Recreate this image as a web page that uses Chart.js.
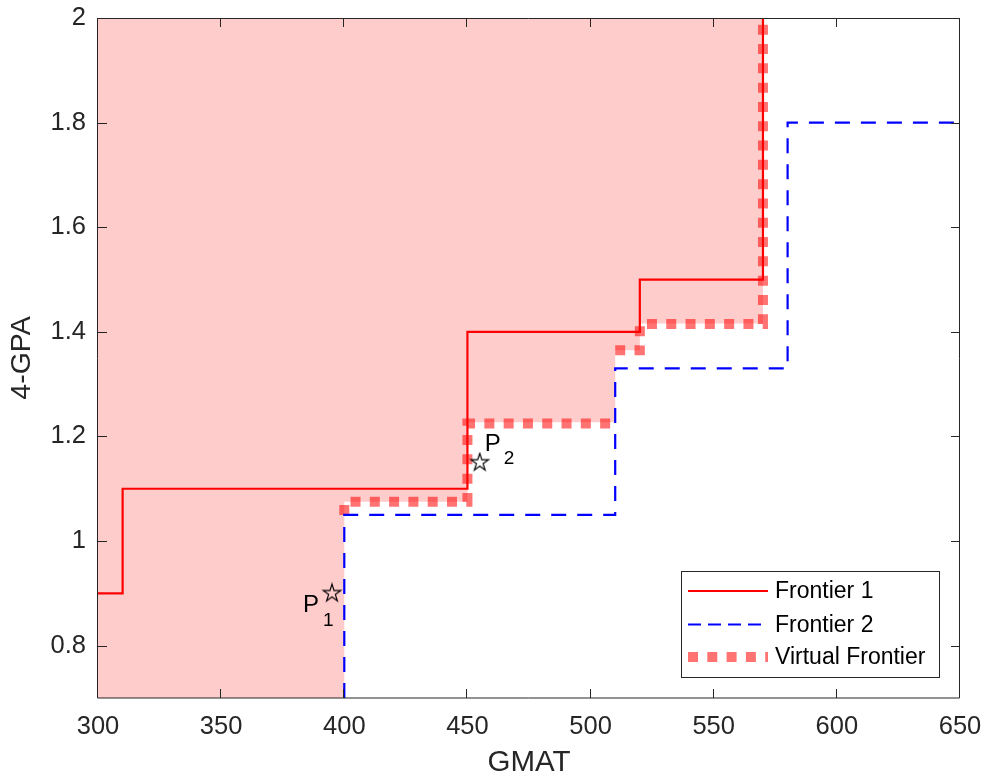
<!DOCTYPE html>
<html>
<head>
<meta charset="utf-8">
<title>GMAT / GPA frontiers</title>
<script src="https://cdn.jsdelivr.net/npm/chart.js@4.4.1/dist/chart.umd.min.js"></script>
<style>
    html, body { margin: 0; padding: 0; background: #fff; }
</style>
</head>
<body>
<canvas id="frontierChart" width="985" height="778"></canvas>
<script>
// Axis ticks
const xTicks = [300, 350, 400, 450, 500, 550, 600, 650];
const yTicks = [0.8, 1, 1.2, 1.4, 1.6, 1.8, 2];

// Series
const seriesLabels = ['Frontier 1', 'Frontier 2', 'Virtual Frontier'];
const frontier1X = [300, 310, 310, 450, 450, 520, 520, 570, 570];
const frontier1Y = [0.9, 0.9, 1.1, 1.1, 1.4, 1.4, 1.5, 1.5, 2];
const frontier2X = [400, 400, 510, 510, 580, 580, 650];
const frontier2Y = [0.7, 1.05, 1.05, 1.33, 1.33, 1.8, 1.8];
const virtualX = [400, 400, 450, 450, 510, 510, 510, 520, 520, 570, 570];
const virtualY = [1.05, 1.075, 1.075, 1.225, 1.225, null, 1.365, 1.365, 1.415, 1.415, 2];

// Shaded region (above the virtual frontier)
const regionX = [300, 400, 400, 450, 450, 510, 510, 520, 520, 570, 570, 300];
const regionY = [0.7, 0.7, 1.075, 1.075, 1.227, 1.227, 1.365, 1.365, 1.416, 1.416, 2, 2];

// Marked points
const pointNames = ['P', 'P'];
const pointSubs = ['1', '2'];
const pointX = [395, 455];
const pointY = [0.9, 1.15];

const FONT = "'Liberation Sans', Arial, Helvetica, sans-serif";
const AXIS_COLOR = '#262626';

const toXY = (xs, ys) => xs.map((x, i) => ({ x: x, y: ys[i] }));

// pentagram marker, outline only
function makePentagram(size) {
    const c = document.createElement('canvas');
    c.width = size;
    c.height = size;
    const g = c.getContext('2d');
    const cx = size / 2, cy = size / 2;
    const R = size / 2 - 1.8, r = R * 0.382;
    g.beginPath();
    for (let i = 0; i < 10; i++) {
        const a = -Math.PI / 2 + i * Math.PI / 5;
        const rad = i % 2 ? r : R;
        g.lineTo(cx + rad * Math.cos(a), cy + rad * Math.sin(a));
    }
    g.closePath();
    g.lineWidth = 1.2;
    g.lineJoin = 'miter';
    g.strokeStyle = '#000';
    g.stroke();
    return c;
}

// box, inward tick marks, point labels and legend
const framePlugin = {
    id: 'framePlugin',
    afterDraw(chart) {
        const { ctx, chartArea: a, scales: { x, y } } = chart;
        const tick = 9;
        ctx.save();

        ctx.strokeStyle = AXIS_COLOR;
        ctx.lineWidth = 1;
        ctx.beginPath();
        ctx.rect(a.left - 0.5, a.top + 0.5, a.right - a.left, a.bottom - a.top - 0.5);
        xTicks.forEach(v => {
            const px = Math.round(x.getPixelForValue(v)) - 0.5;
            ctx.moveTo(px, a.bottom);
            ctx.lineTo(px, a.bottom - tick);
            ctx.moveTo(px, a.top);
            ctx.lineTo(px, a.top + tick);
        });
        yTicks.forEach(v => {
            const py = Math.round(y.getPixelForValue(v)) + 0.5;
            ctx.moveTo(a.left, py);
            ctx.lineTo(a.left + tick, py);
            ctx.moveTo(a.right, py);
            ctx.lineTo(a.right - tick, py);
        });
        ctx.stroke();

        // P1 / P2 labels with subscripts
        const offsets = [
            { px: -29, py: 19, sx: -9, sy: 33 },
            { px: 5, py: -12, sx: 24, sy: 1 }
        ];
        ctx.fillStyle = '#000';
        ctx.textBaseline = 'alphabetic';
        ctx.textAlign = 'left';
        pointX.forEach((v, i) => {
            const cx = x.getPixelForValue(v);
            const cy = y.getPixelForValue(pointY[i]);
            const o = offsets[i];
            ctx.font = '24px ' + FONT;
            ctx.fillText(pointNames[i], cx + o.px, cy + o.py);
            ctx.font = '19px ' + FONT;
            ctx.fillText(pointSubs[i], cx + o.sx, cy + o.sy);
        });

        // legend
        const box = { left: 681, top: 571, width: 258, height: 106 };
        ctx.fillStyle = '#fff';
        ctx.fillRect(box.left, box.top, box.width, box.height);
        ctx.strokeStyle = AXIS_COLOR;
        ctx.lineWidth = 1;
        ctx.strokeRect(box.left + 0.5, box.top + 0.5, box.width, box.height);

        const rows = [591, 624.5, 657];
        const legendDash = [[], [13, 7], [10, 9.3]];
        const lineX0 = 688, lineX1 = 768;
        ctx.font = '23px ' + FONT;
        ctx.textBaseline = 'middle';
        seriesLabels.forEach((label, i) => {
            const ds = chart.data.datasets[i + 1];
            ctx.save();
            ctx.strokeStyle = ds.borderColor;
            ctx.lineWidth = ds.borderWidth;
            ctx.lineCap = 'butt';
            ctx.setLineDash(legendDash[i]);
            ctx.beginPath();
            ctx.moveTo(lineX0, rows[i]);
            ctx.lineTo(lineX1, rows[i]);
            ctx.stroke();
            ctx.restore();
            ctx.fillStyle = '#000';
            ctx.fillText(label, 775, rows[i] + 1);
        });

        ctx.restore();
    }
};

const star = makePentagram(22);

new Chart(document.getElementById('frontierChart'), {
    type: 'line',
    data: {
        datasets: [
            {
                label: 'Points',
                data: toXY(pointX, pointY),
                showLine: false,
                pointStyle: star,
                pointRadius: 9
            },
            {
                label: seriesLabels[0],
                data: toXY(frontier1X, frontier1Y),
                borderColor: '#FF0000',
                borderWidth: 2.2,
                pointRadius: 0,
                borderJoinStyle: 'miter'
            },
            {
                label: seriesLabels[1],
                data: toXY(frontier2X, frontier2Y),
                borderColor: '#0000FF',
                borderWidth: 2.2,
                borderDash: [15, 11],
                borderCapStyle: 'butt',
                pointRadius: 0,
                borderJoinStyle: 'miter'
            },
            {
                label: seriesLabels[2],
                data: toXY(virtualX, virtualY),
                borderColor: 'rgba(255, 0, 0, 0.55)',
                borderWidth: 10,
                borderDash: [10, 9.3],
                borderCapStyle: 'butt',
                pointRadius: 0,
                borderJoinStyle: 'miter',
                spanGaps: false
            },
            {
                label: 'Region',
                data: toXY(regionX, regionY),
                borderWidth: 0,
                borderColor: 'rgba(0, 0, 0, 0)',
                backgroundColor: '#FFCCCC',
                fill: 'shape',
                pointRadius: 0
            }
        ]
    },
    options: {
        responsive: false,
        animation: false,
        events: [],
        layout: {
            autoPadding: false,
            padding: { top: 18, right: 25, left: 0, bottom: 0 }
        },
        plugins: {
            legend: { display: false },
            tooltip: { enabled: false }
        },
        scales: {
            x: {
                type: 'linear',
                min: 300,
                max: 650,
                afterBuildTicks: scale => {
                    scale.ticks = xTicks.map(v => ({ value: v }));
                },
                afterFit: scale => {
                    // fixed axis band, no extra label overhang
                    scale.height = 80;
                    scale.paddingLeft = 0;
                    scale.paddingRight = 0;
                },
                grid: { display: false, drawTicks: false },
                border: { display: false },
                ticks: {
                    autoSkip: false,
                    maxRotation: 0,
                    padding: 14,
                    color: AXIS_COLOR,
                    font: { family: FONT, size: 25.5 }
                },
                title: {
                    display: true,
                    text: 'GMAT',
                    color: AXIS_COLOR,
                    padding: 0,
                    font: { family: FONT, size: 29.5, lineHeight: 1 }
                }
            },
            y: {
                type: 'linear',
                min: 0.7,
                max: 2,
                afterBuildTicks: scale => {
                    scale.ticks = yTicks.map(v => ({ value: v }));
                },
                afterFit: scale => {
                    scale.width = 98;
                    scale.paddingTop = 0;
                    scale.paddingBottom = 0;
                },
                grid: { display: false, drawTicks: false },
                border: { display: false },
                ticks: {
                    autoSkip: false,
                    padding: 12,
                    color: AXIS_COLOR,
                    font: { family: FONT, size: 25.5 },
                    callback: v => String(v)
                },
                title: {
                    display: true,
                    text: '4-GPA',
                    color: AXIS_COLOR,
                    padding: { top: 8 },
                    font: { family: FONT, size: 28.5, lineHeight: 1 }
                }
            }
        }
    },
    plugins: [framePlugin]
});
</script>
</body>
</html>
